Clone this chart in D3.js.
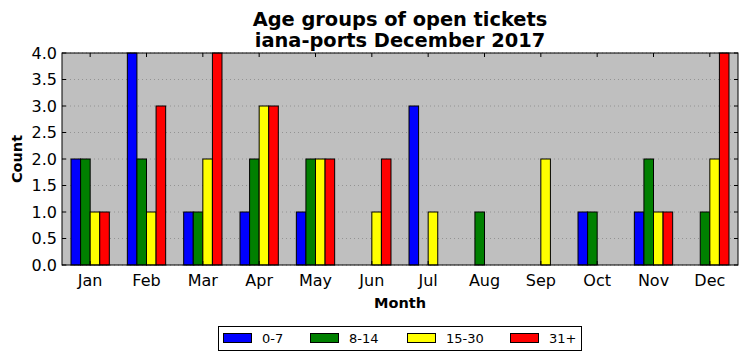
<!DOCTYPE html>
<html><head><meta charset="utf-8">
<script src="https://cdn.jsdelivr.net/npm/d3@7"></script>
<style>body{margin:0;background:#fff}svg{display:block}text{font-family:"DejaVu Sans",sans-serif}</style>
</head><body><svg id="c" width="747" height="361"></svg>
<script>
const months = ["Jan","Feb","Mar","Apr","May","Jun","Jul","Aug","Sep","Oct","Nov","Dec"];
const seriesNames = ["0-7","8-14","15-30","31+"];
const seriesColors = ["#0000ff","#008000","#ffff00","#ff0000"];
const s0_7   = [2,4,1,1,1,0,3,0,0,1,1,0];
const s8_14  = [2,2,1,2,2,0,0,1,0,1,2,1];
const s15_30 = [1,1,2,3,2,1,1,0,2,0,1,2];
const s31    = [1,3,4,3,2,2,0,0,0,0,1,4];
const yTicks = [0,0.5,1,1.5,2,2.5,3,3.5,4];
const series = [s0_7,s8_14,s15_30,s31];

const svg = d3.select("#c");
const L=62,R=738,T=53,B=265;
const x = d3.scaleBand().domain(months).range([L,R]);
const y = d3.scaleLinear().domain([0,4]).range([B,T]);
const barW = x.bandwidth()*0.17;
const sub = d3.scaleBand().domain(seriesNames).range([0,barW*4]);

svg.append("rect").attr("x",L).attr("y",T).attr("width",R-L).attr("height",B-T).attr("fill","#bfbfbf");
// grid
svg.append("g").selectAll("line").data(yTicks).join("line")
  .attr("x1",L).attr("x2",R).attr("y1",d=>y(d)).attr("y2",d=>y(d))
  .attr("stroke","#888").attr("stroke-width",0.8).attr("stroke-dasharray","1,3");
// bars
series.forEach((s,si)=>{
  svg.append("g").selectAll("rect").data(months).join("rect")
    .attr("x",(m)=>x(m)+x.bandwidth()/2-barW*2+sub(seriesNames[si]))
    .attr("y",(m,i)=>y(s[i]))
    .attr("width",barW)
    .attr("height",(m,i)=>B-y(s[i]))
    .attr("fill",seriesColors[si]).attr("stroke","#000").attr("stroke-width",1);
});
// frame
svg.append("rect").attr("x",L).attr("y",T).attr("width",R-L).attr("height",B-T).attr("fill","none").attr("stroke","#000").attr("stroke-width",1);
// ticks
const tk = svg.append("g").attr("stroke","#000").attr("stroke-width",1);
months.forEach(m=>{
  const cx = x(m)+x.bandwidth()/2;
  tk.append("line").attr("x1",cx).attr("x2",cx).attr("y1",B).attr("y2",B-4);
  tk.append("line").attr("x1",cx).attr("x2",cx).attr("y1",T).attr("y2",T+4);
});
yTicks.forEach(v=>{
  tk.append("line").attr("x1",L).attr("x2",L+4).attr("y1",y(v)).attr("y2",y(v));
  tk.append("line").attr("x1",R).attr("x2",R-4).attr("y1",y(v)).attr("y2",y(v));
});
// tick labels
svg.append("g").selectAll("text").data(yTicks).join("text")
  .attr("x",L-5).attr("y",d=>y(d)).attr("dy","0.36em").attr("text-anchor","end")
  .attr("font-size",16).text(d=>d.toFixed(1));
svg.append("g").selectAll("text").data(months).join("text")
  .attr("x",m=>x(m)+x.bandwidth()/2).attr("y",286).attr("text-anchor","middle")
  .attr("font-size",16).text(d=>d);
// labels
svg.append("text").attr("x",400).attr("y",308).attr("text-anchor","middle").attr("font-size",14.5).attr("font-weight","bold").text("Month");
svg.append("text").attr("transform","translate(22,159) rotate(-90)").attr("text-anchor","middle").attr("font-size",14.5).attr("font-weight","bold").text("Count");
svg.append("text").attr("x",400).attr("y",26).attr("text-anchor","middle").attr("font-size",19.4).attr("font-weight","bold").text("Age groups of open tickets");
svg.append("text").attr("x",400).attr("y",47).attr("text-anchor","middle").attr("font-size",19.4).attr("font-weight","bold").text("iana-ports December 2017");
// legend
const lg = svg.append("g");
lg.append("rect").attr("x",218.5).attr("y",326.5).attr("width",363).attr("height",24).attr("fill","#fff").attr("stroke","#000");
const lx = [223,310,407,510];
seriesNames.forEach((n,i)=>{
  lg.append("rect").attr("x",lx[i]+0.5).attr("y",333.5).attr("width",28).attr("height",9).attr("fill",seriesColors[i]).attr("stroke","#000");
  lg.append("text").attr("x",lx[i]+39).attr("y",343).attr("font-size",13).text(n);
});
</script></body></html>
